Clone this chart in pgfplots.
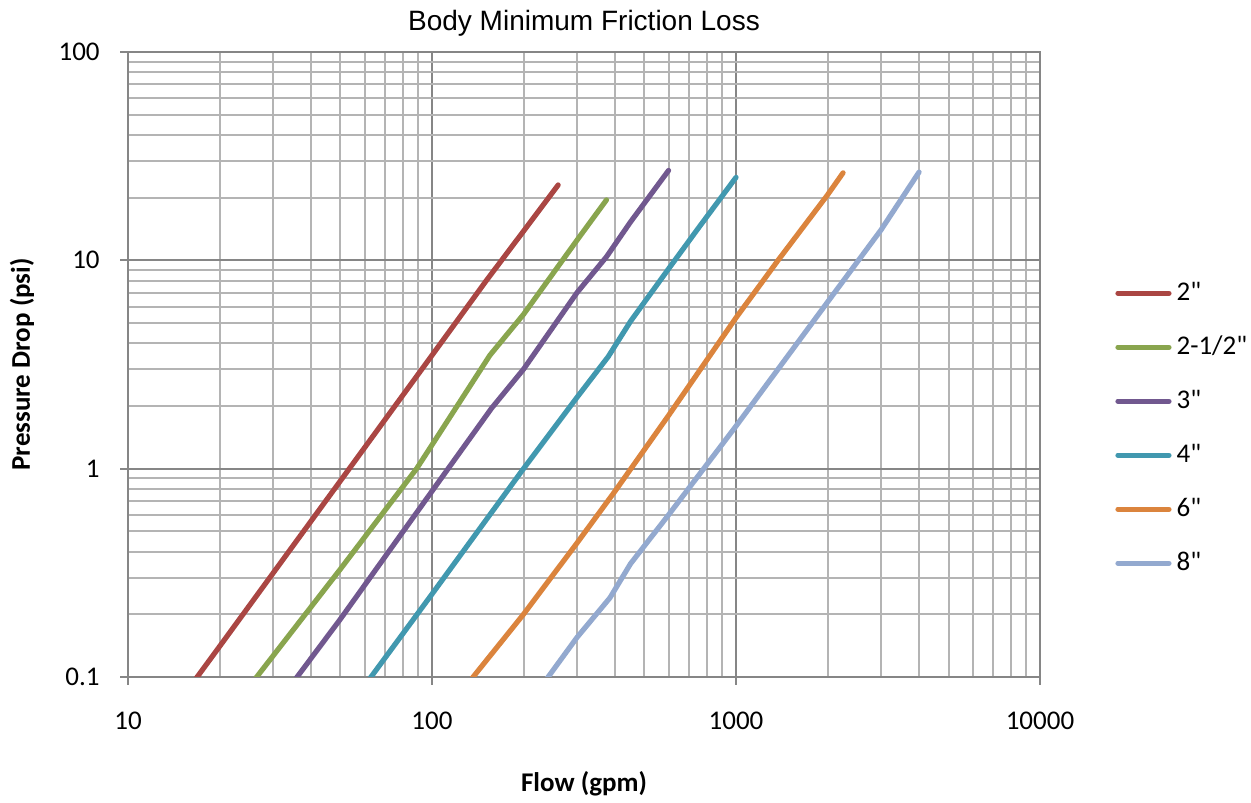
\documentclass[border=0pt]{standalone}
\usepackage{fontspec}
\setmainfont{Carlito}[Ligatures=TeXOff]
\newfontfamily\arialfont{Liberation Sans}
\usepackage{pgfplots}
\pgfplotsset{compat=1.18}

\definecolor{cTwo}{HTML}{AA4643}
\definecolor{cTwoHalf}{HTML}{89A54E}
\definecolor{cThree}{HTML}{71588F}
\definecolor{cFour}{HTML}{4198AF}
\definecolor{cSix}{HTML}{DB843D}
\definecolor{cEight}{HTML}{93A9CF}
\definecolor{gridmajor}{HTML}{868686}
\definecolor{gridminor}{HTML}{B4B4B4}

\newcommand{\chartfont}{\fontsize{13.5}{16}\selectfont}

\begin{document}
\begin{tikzpicture}
\begin{axis}[
  xmode=log, ymode=log,
  scale only axis, width=456pt, height=312.5pt,
  xmin=10, xmax=10000, ymin=0.1, ymax=100,
  xtick={10,100,1000,10000}, xticklabels={10,100,1000,10000},
  ytick={0.1,1,10,100}, yticklabels={0.1,1,10,100},
  minor xtick={20,30,40,50,60,70,80,90,200,300,400,500,600,700,800,900,2000,3000,4000,5000,6000,7000,8000,9000},
  minor ytick={0.2,0.3,0.4,0.5,0.6,0.7,0.8,0.9,2,3,4,5,6,7,8,9,20,30,40,50,60,70,80,90},
  grid=both,
  major grid style={draw=gridmajor, line width=1pt},
  minor grid style={draw=gridminor, line width=1pt},
  axis line style={draw=gridmajor, line width=1pt},
  tick style={draw=gridmajor, line width=1pt},
  tick align=outside, major tick length=4pt, minor tick length=0pt,
  tick pos=left,
  ticklabel style={font=\chartfont},
  /pgf/number format/assume math mode=true,
  xticklabel style={anchor=base, yshift=-22.5pt},
  yticklabel style={anchor=east, inner sep=0pt, xshift=-10pt},
  every axis title shift=0pt,
  title={Body Minimum Friction Loss},
  title style={font=\arialfont\fontsize{14}{16}\selectfont, at={(axis description cs:0.5,1.0336)}, anchor=base},
  xlabel={Flow (gpm)},
  xlabel style={font=\bfseries\chartfont, at={(axis description cs:0.5,-0.1824)}, anchor=base},
  ylabel={Pressure Drop (psi)},
  ylabel style={font=\bfseries\chartfont, at={(axis description cs:-0.1075,0.5)}, anchor=base},
  every axis plot/.append style={line width=2.6pt, line join=round, line cap=round},
  legend style={draw=none, fill=none, at={(1.0822,0.398)}, anchor=west,
    inner sep=0pt, font=\chartfont, row sep=15pt, column sep=2.5pt,
    nodes={inner sep=0pt, text height=9.5pt, text depth=2.5pt}},
  legend cell align=left,
  legend image code/.code={\draw[#1, line cap=round] (1.25pt,0pt) -- (26.75pt,0pt);},
]
% 2"
\addplot[cTwo] coordinates {
  (15,0.079)(20,0.14)(30,0.315)(50,0.875)(75,1.97)(100,3.5)(150,7.9)(200,13.8)(260,23)
};
\addlegendentry{2"}
% 2-1/2"
\addplot[cTwoHalf] coordinates {
  (25,0.089)(26.5,0.1)(50,0.33)(89,1)(100,1.3)(155,3.5)(200,5.5)(300,12.5)(375,19.5)
};
\addlegendentry{2-1/2"}
% 3"
\addplot[cThree] coordinates {
  (34,0.089)(36,0.1)(50,0.19)(113,1)(157,1.95)(200,3)(300,7)(375,10.4)(450,15.3)(600,27)
};
\addlegendentry{3"}
% 4"
\addplot[cFour] coordinates {
  (60,0.091)(63,0.1)(100,0.25)(200,1)(300,2.2)(380,3.45)(450,5.1)(600,9.1)(750,14.2)(1000,25)
};
\addlegendentry{4"}
% 6"
\addplot[cSix] coordinates {
  (130,0.09)(136.5,0.1)(200,0.2)(300,0.44)(400,0.78)(600,1.8)(1000,5.3)(1375,10)(2000,20.6)(2250,26.3)
};
\addlegendentry{6"}
% 8"
\addplot[cEight] coordinates {
  (230,0.091)(241,0.1)(300,0.155)(385,0.24)(450,0.35)(600,0.6)(1000,1.6)(2000,6.3)(3000,14)(4000,26.5)
};
\addlegendentry{8"}
\end{axis}
\path (current axis.south west) ++(-64pt,-60pt) rectangle ++(625.5pt,398.5pt);
\end{tikzpicture}
\end{document}
